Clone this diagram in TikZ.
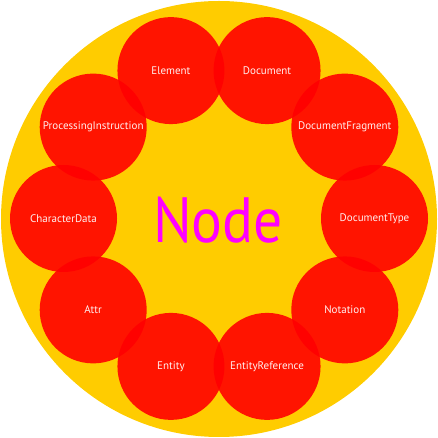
\documentclass[tikz,border=0pt]{standalone}
\usepackage{fontspec}
\usetikzlibrary{calc}
\setmainfont{PT Sans}
\definecolor{gold}{HTML}{FFCC00}
\definecolor{nodemag}{HTML}{FF00FF}
\definecolor{lbl}{HTML}{FFF0F0}
\begin{document}
\begin{tikzpicture}[x=1pt,y=1pt,
  ball/.style={circle,fill=red,fill opacity=0.9,text opacity=1,text=lbl,minimum size=107pt,inner sep=0pt,font=\fontsize{11}{13}\selectfont},
  bigball/.style={circle,fill=gold,minimum size=436pt,inner sep=0pt}]
\useasboundingbox (0,0) rectangle (438,438);
\node[bigball] (big) at (219,219) {};
\coordinate (c) at (219,219.5);
\foreach \name/\ang/\lab in {el/108/Element, doc/72/Document, frag/36/DocumentFragment, dtype/0/DocumentType, nota/-36/Notation, eref/-72/EntityReference, ent/-108/Entity, attr/-144/Attr, cdata/180/CharacterData, pi/144/ProcessingInstruction}{
  \node[ball] (\name) at ($(c)+(\ang:155.5)$) {\lab};
}
\node[text=nodemag,font=\fontsize{64}{70}\selectfont,xscale=0.9] (nodelabel) at (218,218) {Node};
\end{tikzpicture}
\end{document}
